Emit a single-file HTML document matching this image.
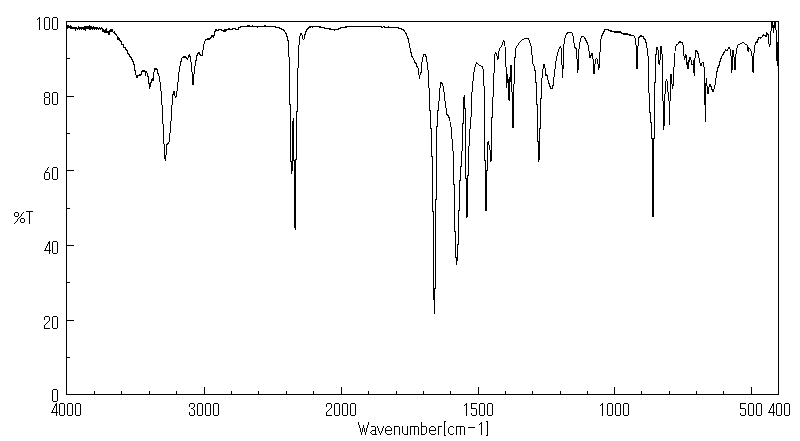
<!DOCTYPE html>
<html><head><meta charset="utf-8"><title>IR Spectrum</title>
<style>
html,body{margin:0;padding:0;background:#fff}
body{width:800px;height:441px;overflow:hidden;font-family:"Liberation Sans",sans-serif}
svg{display:block}
</style></head><body>
<svg width="800" height="441" viewBox="0 0 800 441" shape-rendering="crispEdges">
<desc>IR spectrum. Y axis: %T (0, 20, 40, 60, 80, 100). X axis: Wavenumber[cm-1] (4000, 3000, 2000, 1500, 1000, 500, 400).</desc>
<rect x="0" y="0" width="800" height="441" fill="#fff"/>
<path fill="#000" stroke="none" d="M14 213h1v3h-1zM14 223h1v1h-1zM15 212h1v1h-1zM15 216h1v1h-1zM15 222h1v1h-1zM16 212h1v1h-1zM16 216h1v1h-1zM16 221h1v1h-1zM17 212h1v1h-1zM17 216h1v1h-1zM17 219h1v2h-1zM18 213h1v3h-1zM18 218h1v1h-1zM19 217h1v1h-1zM20 216h1v1h-1zM20 219h1v3h-1zM21 214h1v2h-1zM21 218h1v1h-1zM21 222h1v1h-1zM22 213h1v1h-1zM22 218h1v1h-1zM22 222h1v1h-1zM23 212h1v1h-1zM23 218h1v1h-1zM23 222h1v1h-1zM24 219h1v3h-1zM26 211h1v1h-1zM27 211h1v1h-1zM28 211h1v1h-1zM29 211h1v13h-1zM30 211h1v1h-1zM31 211h1v1h-1zM32 211h1v1h-1zM37 19h1v1h-1zM38 18h1v1h-1zM39 17h1v13h-1zM44 18h1v11h-1zM44 93h1v4h-1zM44 98h1v6h-1zM44 173h1v6h-1zM44 250h1v1h-1zM44 317h1v3h-1zM44 325h1v4h-1zM45 17h1v1h-1zM45 29h1v1h-1zM45 92h1v1h-1zM45 97h1v1h-1zM45 104h1v1h-1zM45 171h1v2h-1zM45 179h1v1h-1zM45 248h1v3h-1zM45 316h1v1h-1zM45 324h1v1h-1zM45 328h1v1h-1zM46 17h1v1h-1zM46 29h1v1h-1zM46 92h1v1h-1zM46 97h1v1h-1zM46 104h1v1h-1zM46 170h1v1h-1zM46 172h1v1h-1zM46 179h1v1h-1zM46 246h1v2h-1zM46 250h1v1h-1zM46 316h1v1h-1zM46 323h1v1h-1zM46 328h1v1h-1zM47 17h1v1h-1zM47 29h1v1h-1zM47 92h1v1h-1zM47 97h1v1h-1zM47 104h1v1h-1zM47 168h1v2h-1zM47 172h1v1h-1zM47 179h1v1h-1zM47 244h1v2h-1zM47 250h1v1h-1zM47 316h1v1h-1zM47 322h1v1h-1zM47 328h1v1h-1zM48 17h1v1h-1zM48 29h1v1h-1zM48 92h1v1h-1zM48 97h1v1h-1zM48 104h1v1h-1zM48 167h1v1h-1zM48 172h1v1h-1zM48 179h1v1h-1zM48 242h1v2h-1zM48 250h1v1h-1zM48 316h1v1h-1zM48 321h1v1h-1zM48 328h1v1h-1zM49 18h1v11h-1zM49 93h1v4h-1zM49 98h1v6h-1zM49 173h1v6h-1zM49 241h1v13h-1zM49 317h1v4h-1zM49 328h1v1h-1zM50 250h1v1h-1zM51 412h1v1h-1zM52 18h1v11h-1zM52 93h1v11h-1zM52 168h1v11h-1zM52 242h1v11h-1zM52 317h1v11h-1zM52 390h1v11h-1zM52 410h1v3h-1zM53 17h1v1h-1zM53 29h1v1h-1zM53 92h1v1h-1zM53 104h1v1h-1zM53 167h1v1h-1zM53 179h1v1h-1zM53 241h1v1h-1zM53 253h1v1h-1zM53 316h1v1h-1zM53 328h1v1h-1zM53 389h1v1h-1zM53 401h1v1h-1zM53 408h1v2h-1zM53 412h1v1h-1zM54 17h1v1h-1zM54 29h1v1h-1zM54 92h1v1h-1zM54 104h1v1h-1zM54 167h1v1h-1zM54 179h1v1h-1zM54 241h1v1h-1zM54 253h1v1h-1zM54 316h1v1h-1zM54 328h1v1h-1zM54 389h1v1h-1zM54 401h1v1h-1zM54 406h1v2h-1zM54 412h1v1h-1zM55 17h1v1h-1zM55 29h1v1h-1zM55 92h1v1h-1zM55 104h1v1h-1zM55 167h1v1h-1zM55 179h1v1h-1zM55 241h1v1h-1zM55 253h1v1h-1zM55 316h1v1h-1zM55 328h1v1h-1zM55 389h1v1h-1zM55 401h1v1h-1zM55 404h1v2h-1zM55 412h1v1h-1zM56 17h1v1h-1zM56 29h1v1h-1zM56 92h1v1h-1zM56 104h1v1h-1zM56 167h1v1h-1zM56 179h1v1h-1zM56 241h1v1h-1zM56 253h1v1h-1zM56 316h1v1h-1zM56 328h1v1h-1zM56 389h1v1h-1zM56 401h1v1h-1zM56 403h1v13h-1zM57 18h1v11h-1zM57 93h1v11h-1zM57 168h1v11h-1zM57 242h1v11h-1zM57 317h1v11h-1zM57 390h1v11h-1zM57 412h1v1h-1zM59 404h1v11h-1zM60 403h1v1h-1zM60 415h1v1h-1zM61 403h1v1h-1zM61 415h1v1h-1zM62 403h1v1h-1zM62 415h1v1h-1zM63 403h1v1h-1zM63 415h1v1h-1zM64 404h1v11h-1zM66 21h1v374h-1zM67 21h1v1h-1zM67 25h1v4h-1zM67 58h1v1h-1zM67 96h1v1h-1zM67 133h1v1h-1zM67 170h1v1h-1zM67 208h1v1h-1zM67 245h1v1h-1zM67 282h1v1h-1zM67 320h1v1h-1zM67 357h1v1h-1zM67 394h1v1h-1zM67 404h1v11h-1zM68 21h1v1h-1zM68 25h1v3h-1zM68 58h1v1h-1zM68 96h1v1h-1zM68 133h1v1h-1zM68 170h1v1h-1zM68 208h1v1h-1zM68 245h1v1h-1zM68 282h1v1h-1zM68 320h1v1h-1zM68 357h1v1h-1zM68 394h1v1h-1zM68 403h1v1h-1zM68 415h1v1h-1zM69 21h1v1h-1zM69 26h1v2h-1zM69 58h1v1h-1zM69 96h1v1h-1zM69 133h1v1h-1zM69 170h1v1h-1zM69 208h1v1h-1zM69 245h1v1h-1zM69 282h1v1h-1zM69 320h1v1h-1zM69 357h1v1h-1zM69 394h1v1h-1zM69 403h1v1h-1zM69 415h1v1h-1zM70 21h1v1h-1zM70 25h1v4h-1zM70 96h1v1h-1zM70 170h1v1h-1zM70 245h1v1h-1zM70 320h1v1h-1zM70 394h1v1h-1zM70 403h1v1h-1zM70 415h1v1h-1zM71 21h1v1h-1zM71 26h1v3h-1zM71 96h1v1h-1zM71 170h1v1h-1zM71 245h1v1h-1zM71 320h1v1h-1zM71 394h1v1h-1zM71 403h1v1h-1zM71 415h1v1h-1zM72 21h1v1h-1zM72 27h1v2h-1zM72 96h1v1h-1zM72 170h1v1h-1zM72 245h1v1h-1zM72 320h1v1h-1zM72 394h1v1h-1zM72 404h1v11h-1zM73 21h1v1h-1zM73 27h1v2h-1zM73 96h1v1h-1zM73 170h1v1h-1zM73 245h1v1h-1zM73 320h1v1h-1zM73 394h1v1h-1zM74 21h1v1h-1zM74 27h1v2h-1zM74 394h1v1h-1zM75 21h1v1h-1zM75 27h1v4h-1zM75 394h1v1h-1zM75 404h1v11h-1zM76 21h1v1h-1zM76 27h1v2h-1zM76 394h1v1h-1zM76 403h1v1h-1zM76 415h1v1h-1zM77 21h1v1h-1zM77 28h1v2h-1zM77 394h1v1h-1zM77 403h1v1h-1zM77 415h1v1h-1zM78 21h1v1h-1zM78 26h1v3h-1zM78 394h1v1h-1zM78 403h1v1h-1zM78 415h1v1h-1zM79 21h1v1h-1zM79 27h1v3h-1zM79 394h1v1h-1zM79 403h1v1h-1zM79 415h1v1h-1zM80 21h1v1h-1zM80 27h1v2h-1zM80 394h1v1h-1zM80 404h1v11h-1zM81 21h1v1h-1zM81 27h1v3h-1zM81 394h1v1h-1zM82 21h1v1h-1zM82 27h1v2h-1zM82 394h1v1h-1zM83 21h1v1h-1zM83 27h1v3h-1zM83 394h1v1h-1zM84 21h1v1h-1zM84 26h1v4h-1zM84 394h1v1h-1zM85 21h1v1h-1zM85 26h1v5h-1zM85 394h1v1h-1zM86 21h1v1h-1zM86 26h1v3h-1zM86 394h1v1h-1zM87 21h1v1h-1zM87 26h1v3h-1zM87 394h1v1h-1zM88 21h1v1h-1zM88 26h1v3h-1zM88 394h1v1h-1zM89 21h1v1h-1zM89 25h1v5h-1zM89 394h1v1h-1zM90 21h1v1h-1zM90 26h1v4h-1zM90 394h1v1h-1zM91 21h1v1h-1zM91 26h1v3h-1zM91 394h1v1h-1zM92 21h1v1h-1zM92 27h1v3h-1zM92 394h1v1h-1zM93 21h1v1h-1zM93 26h1v3h-1zM93 394h1v1h-1zM94 21h1v1h-1zM94 27h1v3h-1zM94 391h1v4h-1zM95 21h1v1h-1zM95 27h1v2h-1zM95 394h1v1h-1zM96 21h1v1h-1zM96 27h1v3h-1zM96 394h1v1h-1zM97 21h1v1h-1zM97 27h1v2h-1zM97 394h1v1h-1zM98 21h1v1h-1zM98 28h1v2h-1zM98 394h1v1h-1zM99 21h1v1h-1zM99 27h1v2h-1zM99 394h1v1h-1zM100 21h1v1h-1zM100 28h1v2h-1zM100 394h1v1h-1zM101 21h1v1h-1zM101 27h1v2h-1zM101 394h1v1h-1zM102 21h1v1h-1zM102 28h1v4h-1zM102 394h1v1h-1zM103 21h1v1h-1zM103 29h1v3h-1zM103 394h1v1h-1zM104 21h1v1h-1zM104 30h1v3h-1zM104 394h1v1h-1zM105 21h1v1h-1zM105 29h1v4h-1zM105 394h1v1h-1zM106 21h1v1h-1zM106 28h1v5h-1zM106 394h1v1h-1zM107 21h1v1h-1zM107 31h1v2h-1zM107 394h1v1h-1zM108 21h1v1h-1zM108 31h1v4h-1zM108 394h1v1h-1zM109 21h1v1h-1zM109 30h1v5h-1zM109 394h1v1h-1zM110 21h1v1h-1zM110 29h1v3h-1zM110 394h1v1h-1zM111 21h1v1h-1zM111 29h1v3h-1zM111 394h1v1h-1zM112 21h1v1h-1zM112 29h1v3h-1zM112 394h1v1h-1zM113 21h1v1h-1zM113 32h1v1h-1zM113 394h1v1h-1zM114 21h1v1h-1zM114 31h1v3h-1zM114 394h1v1h-1zM115 21h1v1h-1zM115 33h1v2h-1zM115 394h1v1h-1zM116 21h1v1h-1zM116 34h1v2h-1zM116 394h1v1h-1zM117 21h1v1h-1zM117 36h1v4h-1zM117 394h1v1h-1zM118 21h1v1h-1zM118 37h1v3h-1zM118 394h1v1h-1zM119 21h1v1h-1zM119 38h1v3h-1zM119 394h1v1h-1zM120 21h1v1h-1zM120 40h1v2h-1zM120 394h1v1h-1zM121 21h1v1h-1zM121 41h1v4h-1zM121 391h1v4h-1zM122 21h1v1h-1zM122 44h1v1h-1zM122 394h1v1h-1zM123 21h1v1h-1zM123 44h1v4h-1zM123 394h1v1h-1zM124 21h1v1h-1zM124 47h1v1h-1zM124 394h1v1h-1zM125 21h1v1h-1zM125 47h1v3h-1zM125 394h1v1h-1zM126 21h1v1h-1zM126 49h1v2h-1zM126 394h1v1h-1zM127 21h1v1h-1zM127 50h1v4h-1zM127 394h1v1h-1zM128 21h1v1h-1zM128 53h1v2h-1zM128 394h1v1h-1zM129 21h1v1h-1zM129 54h1v3h-1zM129 394h1v1h-1zM130 21h1v1h-1zM130 56h1v2h-1zM130 394h1v1h-1zM131 21h1v1h-1zM131 57h1v3h-1zM131 394h1v1h-1zM132 21h1v1h-1zM132 59h1v3h-1zM132 394h1v1h-1zM133 21h1v1h-1zM133 61h1v4h-1zM133 394h1v1h-1zM134 21h1v1h-1zM134 64h1v7h-1zM134 394h1v1h-1zM135 21h1v1h-1zM135 70h1v5h-1zM135 394h1v1h-1zM136 21h1v1h-1zM136 75h1v3h-1zM136 394h1v1h-1zM137 21h1v1h-1zM137 75h1v3h-1zM137 394h1v1h-1zM138 21h1v1h-1zM138 75h1v1h-1zM138 394h1v1h-1zM139 21h1v1h-1zM139 74h1v2h-1zM139 394h1v1h-1zM140 21h1v1h-1zM140 74h1v2h-1zM140 394h1v1h-1zM141 21h1v1h-1zM141 71h1v4h-1zM141 394h1v1h-1zM142 21h1v1h-1zM142 70h1v2h-1zM142 394h1v1h-1zM143 21h1v1h-1zM143 70h1v2h-1zM143 394h1v1h-1zM144 21h1v1h-1zM144 70h1v2h-1zM144 394h1v1h-1zM145 21h1v1h-1zM145 71h1v5h-1zM145 394h1v1h-1zM146 21h1v1h-1zM146 71h1v2h-1zM146 394h1v1h-1zM147 21h1v1h-1zM147 73h1v4h-1zM147 394h1v1h-1zM148 21h1v1h-1zM148 76h1v8h-1zM148 394h1v1h-1zM149 21h1v1h-1zM149 83h1v6h-1zM149 391h1v4h-1zM150 21h1v1h-1zM150 82h1v5h-1zM150 394h1v1h-1zM151 21h1v1h-1zM151 79h1v4h-1zM151 394h1v1h-1zM152 21h1v1h-1zM152 78h1v3h-1zM152 394h1v1h-1zM153 21h1v1h-1zM153 72h1v9h-1zM153 394h1v1h-1zM154 21h1v1h-1zM154 68h1v4h-1zM154 394h1v1h-1zM155 21h1v1h-1zM155 68h1v2h-1zM155 394h1v1h-1zM156 21h1v1h-1zM156 68h1v2h-1zM156 394h1v1h-1zM157 21h1v1h-1zM157 69h1v5h-1zM157 394h1v1h-1zM158 21h1v1h-1zM158 73h1v3h-1zM158 394h1v1h-1zM159 21h1v1h-1zM159 76h1v6h-1zM159 394h1v1h-1zM160 21h1v1h-1zM160 82h1v9h-1zM160 394h1v1h-1zM161 21h1v1h-1zM161 91h1v14h-1zM161 394h1v1h-1zM162 21h1v1h-1zM162 105h1v19h-1zM162 394h1v1h-1zM163 21h1v1h-1zM163 124h1v20h-1zM163 394h1v1h-1zM164 21h1v1h-1zM164 144h1v15h-1zM164 394h1v1h-1zM165 21h1v1h-1zM165 155h1v6h-1zM165 394h1v1h-1zM166 21h1v1h-1zM166 144h1v11h-1zM166 394h1v1h-1zM167 21h1v1h-1zM167 143h1v2h-1zM167 394h1v1h-1zM168 21h1v1h-1zM168 142h1v2h-1zM168 394h1v1h-1zM169 21h1v1h-1zM169 133h1v9h-1zM169 394h1v1h-1zM170 21h1v1h-1zM170 121h1v12h-1zM170 394h1v1h-1zM171 21h1v1h-1zM171 105h1v16h-1zM171 394h1v1h-1zM172 21h1v1h-1zM172 94h1v11h-1zM172 394h1v1h-1zM173 21h1v1h-1zM173 91h1v4h-1zM173 394h1v1h-1zM174 21h1v1h-1zM174 91h1v5h-1zM174 394h1v1h-1zM175 21h1v1h-1zM175 96h1v2h-1zM175 394h1v1h-1zM176 21h1v1h-1zM176 91h1v6h-1zM176 391h1v4h-1zM177 21h1v1h-1zM177 82h1v9h-1zM177 394h1v1h-1zM178 21h1v1h-1zM178 72h1v10h-1zM178 394h1v1h-1zM179 21h1v1h-1zM179 66h1v6h-1zM179 394h1v1h-1zM180 21h1v1h-1zM180 61h1v5h-1zM180 394h1v1h-1zM181 21h1v1h-1zM181 58h1v4h-1zM181 394h1v1h-1zM182 21h1v1h-1zM182 57h1v1h-1zM182 394h1v1h-1zM183 21h1v1h-1zM183 56h1v2h-1zM183 394h1v1h-1zM184 21h1v1h-1zM184 56h1v2h-1zM184 394h1v1h-1zM185 21h1v1h-1zM185 56h1v2h-1zM185 394h1v1h-1zM186 21h1v1h-1zM186 57h1v2h-1zM186 394h1v1h-1zM187 21h1v1h-1zM187 58h1v2h-1zM187 394h1v1h-1zM188 21h1v1h-1zM188 55h1v3h-1zM188 394h1v1h-1zM189 21h1v1h-1zM189 54h1v3h-1zM189 394h1v1h-1zM189 404h1v3h-1zM189 412h1v3h-1zM190 21h1v1h-1zM190 56h1v6h-1zM190 394h1v1h-1zM190 403h1v1h-1zM190 415h1v1h-1zM191 21h1v1h-1zM191 62h1v10h-1zM191 394h1v1h-1zM191 403h1v1h-1zM191 408h1v1h-1zM191 415h1v1h-1zM192 21h1v1h-1zM192 72h1v13h-1zM192 394h1v1h-1zM192 403h1v1h-1zM192 408h1v1h-1zM192 415h1v1h-1zM193 21h1v1h-1zM193 74h1v11h-1zM193 394h1v1h-1zM193 403h1v1h-1zM193 407h1v1h-1zM193 409h1v1h-1zM193 415h1v1h-1zM194 21h1v1h-1zM194 66h1v8h-1zM194 394h1v1h-1zM194 404h1v3h-1zM194 410h1v5h-1zM195 21h1v1h-1zM195 60h1v6h-1zM195 394h1v1h-1zM196 21h1v1h-1zM196 55h1v6h-1zM196 394h1v1h-1zM197 21h1v1h-1zM197 53h1v3h-1zM197 394h1v1h-1zM197 404h1v11h-1zM198 21h1v1h-1zM198 52h1v2h-1zM198 394h1v1h-1zM198 403h1v1h-1zM198 415h1v1h-1zM199 21h1v1h-1zM199 52h1v3h-1zM199 394h1v1h-1zM199 403h1v1h-1zM199 415h1v1h-1zM200 21h1v1h-1zM200 54h1v2h-1zM200 394h1v1h-1zM200 403h1v1h-1zM200 415h1v1h-1zM201 21h1v1h-1zM201 55h1v1h-1zM201 394h1v1h-1zM201 403h1v1h-1zM201 415h1v1h-1zM202 21h1v1h-1zM202 50h1v6h-1zM202 394h1v1h-1zM202 404h1v11h-1zM203 21h1v1h-1zM203 44h1v6h-1zM203 394h1v1h-1zM204 21h1v1h-1zM204 41h1v3h-1zM204 387h1v8h-1zM205 21h1v1h-1zM205 39h1v2h-1zM205 394h1v1h-1zM205 404h1v11h-1zM206 21h1v1h-1zM206 39h1v1h-1zM206 394h1v1h-1zM206 403h1v1h-1zM206 415h1v1h-1zM207 21h1v1h-1zM207 38h1v2h-1zM207 394h1v1h-1zM207 403h1v1h-1zM207 415h1v1h-1zM208 21h1v1h-1zM208 38h1v2h-1zM208 394h1v1h-1zM208 403h1v1h-1zM208 415h1v1h-1zM209 21h1v1h-1zM209 38h1v2h-1zM209 394h1v1h-1zM209 403h1v1h-1zM209 415h1v1h-1zM210 21h1v1h-1zM210 37h1v2h-1zM210 394h1v1h-1zM210 404h1v11h-1zM211 21h1v1h-1zM211 35h1v3h-1zM211 394h1v1h-1zM212 21h1v1h-1zM212 35h1v2h-1zM212 394h1v1h-1zM213 21h1v1h-1zM213 35h1v3h-1zM213 394h1v1h-1zM213 404h1v11h-1zM214 21h1v1h-1zM214 31h1v5h-1zM214 394h1v1h-1zM214 403h1v1h-1zM214 415h1v1h-1zM215 21h1v1h-1zM215 29h1v3h-1zM215 394h1v1h-1zM215 403h1v1h-1zM215 415h1v1h-1zM216 21h1v1h-1zM216 29h1v2h-1zM216 394h1v1h-1zM216 403h1v1h-1zM216 415h1v1h-1zM217 21h1v1h-1zM217 30h1v1h-1zM217 394h1v1h-1zM217 403h1v1h-1zM217 415h1v1h-1zM218 21h1v1h-1zM218 29h1v2h-1zM218 394h1v1h-1zM218 404h1v11h-1zM219 21h1v1h-1zM219 29h1v1h-1zM219 394h1v1h-1zM220 21h1v1h-1zM220 29h1v1h-1zM220 394h1v1h-1zM221 21h1v1h-1zM221 29h1v2h-1zM221 394h1v1h-1zM222 21h1v1h-1zM222 30h1v1h-1zM222 394h1v1h-1zM223 21h1v1h-1zM223 30h1v2h-1zM223 394h1v1h-1zM224 21h1v1h-1zM224 29h1v3h-1zM224 394h1v1h-1zM225 21h1v1h-1zM225 29h1v3h-1zM225 394h1v1h-1zM226 21h1v1h-1zM226 29h1v2h-1zM226 394h1v1h-1zM227 21h1v1h-1zM227 29h1v1h-1zM227 394h1v1h-1zM228 21h1v1h-1zM228 28h1v2h-1zM228 394h1v1h-1zM229 21h1v1h-1zM229 28h1v2h-1zM229 394h1v1h-1zM230 21h1v1h-1zM230 29h1v1h-1zM230 394h1v1h-1zM231 21h1v1h-1zM231 29h1v1h-1zM231 391h1v4h-1zM232 21h1v1h-1zM232 28h1v2h-1zM232 394h1v1h-1zM233 21h1v1h-1zM233 28h1v1h-1zM233 394h1v1h-1zM234 21h1v1h-1zM234 28h1v1h-1zM234 394h1v1h-1zM235 21h1v1h-1zM235 28h1v2h-1zM235 394h1v1h-1zM236 21h1v1h-1zM236 29h1v1h-1zM236 394h1v1h-1zM237 21h1v1h-1zM237 29h1v1h-1zM237 394h1v1h-1zM238 21h1v1h-1zM238 27h1v3h-1zM238 394h1v1h-1zM239 21h1v1h-1zM239 27h1v1h-1zM239 394h1v1h-1zM240 21h1v1h-1zM240 26h1v2h-1zM240 394h1v1h-1zM241 21h1v1h-1zM241 26h1v1h-1zM241 394h1v1h-1zM242 21h1v1h-1zM242 26h1v1h-1zM242 394h1v1h-1zM243 21h1v1h-1zM243 26h1v1h-1zM243 394h1v1h-1zM244 21h1v1h-1zM244 26h1v1h-1zM244 394h1v1h-1zM245 21h1v1h-1zM245 26h1v1h-1zM245 394h1v1h-1zM246 21h1v1h-1zM246 26h1v1h-1zM246 394h1v1h-1zM247 21h1v1h-1zM247 25h1v2h-1zM247 394h1v1h-1zM248 21h1v1h-1zM248 25h1v2h-1zM248 394h1v1h-1zM249 21h1v1h-1zM249 25h1v2h-1zM249 394h1v1h-1zM250 21h1v1h-1zM250 26h1v1h-1zM250 394h1v1h-1zM251 21h1v1h-1zM251 26h1v1h-1zM251 394h1v1h-1zM252 21h1v1h-1zM252 25h1v2h-1zM252 394h1v1h-1zM253 21h1v1h-1zM253 26h1v1h-1zM253 394h1v1h-1zM254 21h1v1h-1zM254 26h1v1h-1zM254 394h1v1h-1zM255 21h1v1h-1zM255 26h1v1h-1zM255 394h1v1h-1zM256 21h1v1h-1zM256 26h1v1h-1zM256 394h1v1h-1zM257 21h1v1h-1zM257 26h1v2h-1zM257 394h1v1h-1zM258 21h1v1h-1zM258 26h1v1h-1zM258 391h1v4h-1zM259 21h1v1h-1zM259 26h1v1h-1zM259 394h1v1h-1zM260 21h1v1h-1zM260 26h1v1h-1zM260 394h1v1h-1zM261 21h1v1h-1zM261 26h1v1h-1zM261 394h1v1h-1zM262 21h1v1h-1zM262 26h1v1h-1zM262 394h1v1h-1zM263 21h1v1h-1zM263 26h1v1h-1zM263 394h1v1h-1zM264 21h1v1h-1zM264 25h1v2h-1zM264 394h1v1h-1zM265 21h1v1h-1zM265 25h1v2h-1zM265 394h1v1h-1zM266 21h1v1h-1zM266 26h1v1h-1zM266 394h1v1h-1zM267 21h1v1h-1zM267 26h1v1h-1zM267 394h1v1h-1zM268 21h1v1h-1zM268 26h1v1h-1zM268 394h1v1h-1zM269 21h1v1h-1zM269 26h1v1h-1zM269 394h1v1h-1zM270 21h1v1h-1zM270 26h1v1h-1zM270 394h1v1h-1zM271 21h1v1h-1zM271 26h1v1h-1zM271 394h1v1h-1zM272 21h1v1h-1zM272 26h1v1h-1zM272 394h1v1h-1zM273 21h1v1h-1zM273 26h1v1h-1zM273 394h1v1h-1zM274 21h1v1h-1zM274 26h1v1h-1zM274 394h1v1h-1zM275 21h1v1h-1zM275 26h1v2h-1zM275 394h1v1h-1zM276 21h1v1h-1zM276 27h1v1h-1zM276 394h1v1h-1zM277 21h1v1h-1zM277 27h1v1h-1zM277 394h1v1h-1zM278 21h1v1h-1zM278 27h1v1h-1zM278 394h1v1h-1zM279 21h1v1h-1zM279 27h1v2h-1zM279 394h1v1h-1zM280 21h1v1h-1zM280 28h1v1h-1zM280 394h1v1h-1zM281 21h1v1h-1zM281 28h1v2h-1zM281 394h1v1h-1zM282 21h1v1h-1zM282 29h1v1h-1zM282 394h1v1h-1zM283 21h1v1h-1zM283 29h1v2h-1zM283 394h1v1h-1zM284 21h1v1h-1zM284 30h1v2h-1zM284 394h1v1h-1zM285 21h1v1h-1zM285 32h1v2h-1zM285 394h1v1h-1zM286 21h1v1h-1zM286 33h1v4h-1zM286 391h1v4h-1zM287 21h1v1h-1zM287 36h1v5h-1zM287 394h1v1h-1zM288 21h1v1h-1zM288 40h1v17h-1zM288 394h1v1h-1zM289 21h1v1h-1zM289 57h1v48h-1zM289 394h1v1h-1zM290 21h1v1h-1zM290 104h1v58h-1zM290 394h1v1h-1zM291 21h1v1h-1zM291 161h1v13h-1zM291 394h1v1h-1zM292 21h1v1h-1zM292 121h1v50h-1zM292 394h1v1h-1zM293 21h1v1h-1zM293 118h1v43h-1zM293 394h1v1h-1zM294 21h1v1h-1zM294 160h1v68h-1zM294 394h1v1h-1zM295 21h1v1h-1zM295 159h1v71h-1zM295 394h1v1h-1zM296 21h1v1h-1zM296 111h1v49h-1zM296 394h1v1h-1zM297 21h1v1h-1zM297 68h1v44h-1zM297 394h1v1h-1zM298 21h1v1h-1zM298 45h1v23h-1zM298 394h1v1h-1zM299 21h1v1h-1zM299 36h1v9h-1zM299 394h1v1h-1zM300 21h1v1h-1zM300 33h1v3h-1zM300 394h1v1h-1zM301 21h1v1h-1zM301 33h1v2h-1zM301 394h1v1h-1zM302 21h1v1h-1zM302 35h1v4h-1zM302 394h1v1h-1zM303 21h1v1h-1zM303 39h1v1h-1zM303 394h1v1h-1zM304 21h1v1h-1zM304 34h1v5h-1zM304 394h1v1h-1zM305 21h1v1h-1zM305 31h1v4h-1zM305 394h1v1h-1zM306 21h1v1h-1zM306 29h1v3h-1zM306 394h1v1h-1zM307 21h1v1h-1zM307 28h1v2h-1zM307 394h1v1h-1zM308 21h1v1h-1zM308 27h1v2h-1zM308 394h1v1h-1zM309 21h1v1h-1zM309 26h1v2h-1zM309 394h1v1h-1zM310 21h1v1h-1zM310 26h1v2h-1zM310 394h1v1h-1zM311 21h1v1h-1zM311 26h1v1h-1zM311 394h1v1h-1zM312 21h1v1h-1zM312 26h1v2h-1zM312 394h1v1h-1zM313 21h1v1h-1zM313 26h1v1h-1zM313 391h1v4h-1zM314 21h1v1h-1zM314 26h1v1h-1zM314 394h1v1h-1zM315 21h1v1h-1zM315 26h1v1h-1zM315 394h1v1h-1zM316 21h1v1h-1zM316 26h1v1h-1zM316 394h1v1h-1zM317 21h1v1h-1zM317 26h1v1h-1zM317 394h1v1h-1zM318 21h1v1h-1zM318 26h1v1h-1zM318 394h1v1h-1zM319 21h1v1h-1zM319 26h1v2h-1zM319 394h1v1h-1zM320 21h1v1h-1zM320 26h1v2h-1zM320 394h1v1h-1zM321 21h1v1h-1zM321 27h1v1h-1zM321 394h1v1h-1zM322 21h1v1h-1zM322 27h1v1h-1zM322 394h1v1h-1zM323 21h1v1h-1zM323 27h1v1h-1zM323 394h1v1h-1zM324 21h1v1h-1zM324 27h1v2h-1zM324 394h1v1h-1zM325 21h1v1h-1zM325 28h1v1h-1zM325 394h1v1h-1zM326 21h1v1h-1zM326 28h1v1h-1zM326 394h1v1h-1zM326 404h1v3h-1zM326 412h1v4h-1zM327 21h1v1h-1zM327 28h1v1h-1zM327 394h1v1h-1zM327 403h1v1h-1zM327 411h1v1h-1zM327 415h1v1h-1zM328 21h1v1h-1zM328 28h1v1h-1zM328 394h1v1h-1zM328 403h1v1h-1zM328 410h1v1h-1zM328 415h1v1h-1zM329 21h1v1h-1zM329 28h1v2h-1zM329 394h1v1h-1zM329 403h1v1h-1zM329 409h1v1h-1zM329 415h1v1h-1zM330 21h1v1h-1zM330 28h1v2h-1zM330 394h1v1h-1zM330 403h1v1h-1zM330 408h1v1h-1zM330 415h1v1h-1zM331 21h1v1h-1zM331 29h1v1h-1zM331 394h1v1h-1zM331 404h1v4h-1zM331 415h1v1h-1zM332 21h1v1h-1zM332 29h1v1h-1zM332 394h1v1h-1zM333 21h1v1h-1zM333 29h1v1h-1zM333 394h1v1h-1zM334 21h1v1h-1zM334 29h1v2h-1zM334 394h1v1h-1zM334 404h1v11h-1zM335 21h1v1h-1zM335 29h1v1h-1zM335 394h1v1h-1zM335 403h1v1h-1zM335 415h1v1h-1zM336 21h1v1h-1zM336 29h1v1h-1zM336 394h1v1h-1zM336 403h1v1h-1zM336 415h1v1h-1zM337 21h1v1h-1zM337 29h1v1h-1zM337 394h1v1h-1zM337 403h1v1h-1zM337 415h1v1h-1zM338 21h1v1h-1zM338 28h1v2h-1zM338 394h1v1h-1zM338 403h1v1h-1zM338 415h1v1h-1zM339 21h1v1h-1zM339 28h1v1h-1zM339 394h1v1h-1zM339 404h1v11h-1zM340 21h1v1h-1zM340 27h1v2h-1zM340 394h1v1h-1zM341 21h1v1h-1zM341 27h1v1h-1zM341 387h1v8h-1zM342 21h1v1h-1zM342 27h1v1h-1zM342 394h1v1h-1zM342 404h1v11h-1zM343 21h1v1h-1zM343 27h1v1h-1zM343 394h1v1h-1zM343 403h1v1h-1zM343 415h1v1h-1zM344 21h1v1h-1zM344 27h1v1h-1zM344 394h1v1h-1zM344 403h1v1h-1zM344 415h1v1h-1zM345 21h1v1h-1zM345 26h1v2h-1zM345 394h1v1h-1zM345 403h1v1h-1zM345 415h1v1h-1zM346 21h1v1h-1zM346 26h1v2h-1zM346 394h1v1h-1zM346 403h1v1h-1zM346 415h1v1h-1zM347 21h1v1h-1zM347 26h1v1h-1zM347 394h1v1h-1zM347 404h1v11h-1zM348 21h1v1h-1zM348 26h1v1h-1zM348 394h1v1h-1zM349 21h1v1h-1zM349 26h1v1h-1zM349 394h1v1h-1zM350 21h1v1h-1zM350 26h1v1h-1zM350 394h1v1h-1zM350 404h1v11h-1zM351 21h1v1h-1zM351 26h1v1h-1zM351 394h1v1h-1zM351 403h1v1h-1zM351 415h1v1h-1zM352 21h1v1h-1zM352 26h1v1h-1zM352 394h1v1h-1zM352 403h1v1h-1zM352 415h1v1h-1zM353 21h1v1h-1zM353 26h1v1h-1zM353 394h1v1h-1zM353 403h1v1h-1zM353 415h1v1h-1zM354 21h1v1h-1zM354 26h1v1h-1zM354 394h1v1h-1zM354 403h1v1h-1zM354 415h1v1h-1zM355 21h1v1h-1zM355 26h1v1h-1zM355 394h1v1h-1zM355 404h1v11h-1zM356 21h1v1h-1zM356 26h1v1h-1zM356 394h1v1h-1zM357 21h1v1h-1zM357 26h1v1h-1zM357 394h1v1h-1zM358 21h1v1h-1zM358 26h1v1h-1zM358 394h1v1h-1zM358 422h1v3h-1zM359 21h1v1h-1zM359 26h1v1h-1zM359 394h1v1h-1zM359 425h1v3h-1zM360 21h1v1h-1zM360 26h1v1h-1zM360 394h1v1h-1zM360 428h1v4h-1zM361 21h1v1h-1zM361 26h1v1h-1zM361 394h1v1h-1zM361 432h1v3h-1zM362 21h1v1h-1zM362 26h1v1h-1zM362 394h1v1h-1zM362 428h1v4h-1zM363 21h1v1h-1zM363 26h1v1h-1zM363 394h1v1h-1zM363 425h1v3h-1zM364 21h1v1h-1zM364 26h1v1h-1zM364 394h1v1h-1zM364 428h1v4h-1zM365 21h1v1h-1zM365 26h1v1h-1zM365 394h1v1h-1zM365 432h1v3h-1zM366 21h1v1h-1zM366 26h1v1h-1zM366 394h1v1h-1zM366 428h1v4h-1zM367 21h1v1h-1zM367 26h1v1h-1zM367 394h1v1h-1zM367 425h1v3h-1zM368 21h1v1h-1zM368 26h1v1h-1zM368 391h1v4h-1zM368 422h1v3h-1zM369 21h1v1h-1zM369 26h1v1h-1zM369 394h1v1h-1zM370 21h1v1h-1zM370 26h1v1h-1zM370 394h1v1h-1zM370 432h1v1h-1zM371 21h1v1h-1zM371 26h1v1h-1zM371 394h1v1h-1zM371 426h1v1h-1zM371 431h1v1h-1zM371 433h1v1h-1zM372 21h1v1h-1zM372 26h1v1h-1zM372 394h1v1h-1zM372 426h1v1h-1zM372 430h1v1h-1zM372 434h1v1h-1zM373 21h1v1h-1zM373 26h1v1h-1zM373 394h1v1h-1zM373 426h1v1h-1zM373 430h1v1h-1zM373 434h1v1h-1zM374 21h1v1h-1zM374 26h1v1h-1zM374 394h1v1h-1zM374 426h1v1h-1zM374 430h1v1h-1zM374 434h1v1h-1zM375 21h1v1h-1zM375 26h1v1h-1zM375 394h1v1h-1zM375 427h1v8h-1zM376 21h1v1h-1zM376 26h1v1h-1zM376 394h1v1h-1zM376 434h1v1h-1zM377 21h1v1h-1zM377 26h1v1h-1zM377 394h1v1h-1zM377 426h1v2h-1zM378 21h1v1h-1zM378 26h1v1h-1zM378 394h1v1h-1zM378 428h1v3h-1zM379 21h1v1h-1zM379 26h1v1h-1zM379 394h1v1h-1zM379 431h1v2h-1zM380 21h1v1h-1zM380 26h1v1h-1zM380 394h1v1h-1zM380 433h1v2h-1zM381 21h1v1h-1zM381 26h1v2h-1zM381 394h1v1h-1zM381 431h1v2h-1zM382 21h1v1h-1zM382 27h1v1h-1zM382 394h1v1h-1zM382 428h1v3h-1zM383 21h1v1h-1zM383 26h1v1h-1zM383 394h1v1h-1zM383 426h1v2h-1zM384 21h1v1h-1zM384 26h1v2h-1zM384 394h1v1h-1zM385 21h1v1h-1zM385 27h1v1h-1zM385 394h1v1h-1zM385 428h1v5h-1zM386 21h1v1h-1zM386 27h1v1h-1zM386 394h1v1h-1zM386 427h1v1h-1zM386 430h1v1h-1zM386 433h1v1h-1zM387 21h1v1h-1zM387 27h1v1h-1zM387 394h1v1h-1zM387 426h1v1h-1zM387 430h1v1h-1zM387 434h1v1h-1zM388 21h1v1h-1zM388 26h1v2h-1zM388 394h1v1h-1zM388 426h1v1h-1zM388 430h1v1h-1zM388 434h1v1h-1zM389 21h1v1h-1zM389 27h1v1h-1zM389 394h1v1h-1zM389 426h1v1h-1zM389 430h1v1h-1zM389 434h1v1h-1zM390 21h1v1h-1zM390 27h1v1h-1zM390 394h1v1h-1zM390 427h1v1h-1zM390 430h1v1h-1zM390 434h1v1h-1zM391 21h1v1h-1zM391 27h1v1h-1zM391 394h1v1h-1zM391 428h1v3h-1zM391 433h1v1h-1zM392 21h1v1h-1zM392 27h1v1h-1zM392 394h1v1h-1zM393 21h1v1h-1zM393 27h1v1h-1zM393 394h1v1h-1zM394 21h1v1h-1zM394 27h1v1h-1zM394 394h1v1h-1zM394 426h1v9h-1zM395 21h1v1h-1zM395 27h1v1h-1zM395 394h1v1h-1zM395 426h1v1h-1zM396 21h1v1h-1zM396 27h1v1h-1zM396 391h1v4h-1zM396 426h1v1h-1zM397 21h1v1h-1zM397 27h1v1h-1zM397 394h1v1h-1zM397 426h1v1h-1zM398 21h1v1h-1zM398 27h1v2h-1zM398 394h1v1h-1zM398 426h1v1h-1zM399 21h1v1h-1zM399 28h1v1h-1zM399 394h1v1h-1zM399 427h1v8h-1zM400 21h1v1h-1zM400 28h1v1h-1zM400 394h1v1h-1zM401 21h1v1h-1zM401 28h1v2h-1zM401 394h1v1h-1zM402 21h1v1h-1zM402 29h1v1h-1zM402 394h1v1h-1zM402 426h1v7h-1zM403 21h1v1h-1zM403 29h1v2h-1zM403 394h1v1h-1zM403 433h1v1h-1zM404 21h1v1h-1zM404 30h1v2h-1zM404 394h1v1h-1zM404 434h1v1h-1zM405 21h1v1h-1zM405 32h1v2h-1zM405 394h1v1h-1zM405 434h1v1h-1zM406 21h1v1h-1zM406 33h1v3h-1zM406 394h1v1h-1zM406 434h1v1h-1zM407 21h1v1h-1zM407 36h1v3h-1zM407 394h1v1h-1zM407 426h1v9h-1zM408 21h1v1h-1zM408 38h1v5h-1zM408 394h1v1h-1zM409 21h1v1h-1zM409 43h1v5h-1zM409 394h1v1h-1zM410 21h1v1h-1zM410 48h1v5h-1zM410 394h1v1h-1zM410 426h1v9h-1zM411 21h1v1h-1zM411 52h1v5h-1zM411 394h1v1h-1zM411 426h1v1h-1zM412 21h1v1h-1zM412 56h1v2h-1zM412 394h1v1h-1zM412 426h1v1h-1zM413 21h1v1h-1zM413 58h1v2h-1zM413 394h1v1h-1zM413 426h1v1h-1zM414 21h1v1h-1zM414 60h1v3h-1zM414 394h1v1h-1zM414 426h1v9h-1zM415 21h1v1h-1zM415 62h1v2h-1zM415 394h1v1h-1zM415 426h1v1h-1zM416 21h1v1h-1zM416 63h1v4h-1zM416 394h1v1h-1zM416 426h1v1h-1zM417 21h1v1h-1zM417 66h1v2h-1zM417 394h1v1h-1zM417 426h1v1h-1zM418 21h1v1h-1zM418 68h1v7h-1zM418 394h1v1h-1zM418 427h1v8h-1zM419 21h1v1h-1zM419 75h1v4h-1zM419 394h1v1h-1zM420 21h1v1h-1zM420 72h1v3h-1zM420 394h1v1h-1zM421 21h1v1h-1zM421 62h1v11h-1zM421 394h1v1h-1zM421 422h1v13h-1zM422 21h1v1h-1zM422 57h1v5h-1zM422 394h1v1h-1zM422 426h1v1h-1zM422 434h1v1h-1zM423 21h1v1h-1zM423 54h1v3h-1zM423 391h1v4h-1zM423 426h1v1h-1zM423 434h1v1h-1zM424 21h1v1h-1zM424 54h1v1h-1zM424 394h1v1h-1zM424 426h1v1h-1zM424 434h1v1h-1zM425 21h1v1h-1zM425 54h1v3h-1zM425 394h1v1h-1zM425 426h1v1h-1zM425 433h1v1h-1zM426 21h1v1h-1zM426 56h1v6h-1zM426 394h1v1h-1zM426 427h1v6h-1zM427 21h1v1h-1zM427 62h1v8h-1zM427 394h1v1h-1zM428 21h1v1h-1zM428 70h1v18h-1zM428 394h1v1h-1zM429 21h1v1h-1zM429 88h1v23h-1zM429 394h1v1h-1zM429 428h1v5h-1zM430 21h1v1h-1zM430 110h1v19h-1zM430 394h1v1h-1zM430 427h1v1h-1zM430 430h1v1h-1zM430 433h1v1h-1zM431 21h1v1h-1zM431 128h1v29h-1zM431 394h1v1h-1zM431 426h1v1h-1zM431 430h1v1h-1zM431 434h1v1h-1zM432 21h1v1h-1zM432 156h1v56h-1zM432 394h1v1h-1zM432 426h1v1h-1zM432 430h1v1h-1zM432 434h1v1h-1zM433 21h1v1h-1zM433 211h1v89h-1zM433 394h1v1h-1zM433 426h1v1h-1zM433 430h1v1h-1zM433 434h1v1h-1zM434 21h1v1h-1zM434 288h1v26h-1zM434 394h1v1h-1zM434 427h1v1h-1zM434 430h1v1h-1zM434 434h1v1h-1zM435 21h1v1h-1zM435 199h1v90h-1zM435 394h1v1h-1zM435 428h1v3h-1zM435 433h1v1h-1zM436 21h1v1h-1zM436 126h1v74h-1zM436 394h1v1h-1zM437 21h1v1h-1zM437 110h1v17h-1zM437 394h1v1h-1zM438 21h1v1h-1zM438 101h1v10h-1zM438 394h1v1h-1zM438 426h1v9h-1zM439 21h1v1h-1zM439 88h1v13h-1zM439 394h1v1h-1zM439 426h1v1h-1zM440 21h1v1h-1zM440 82h1v6h-1zM440 394h1v1h-1zM440 426h1v1h-1zM441 21h1v1h-1zM441 82h1v2h-1zM441 394h1v1h-1zM441 426h1v1h-1zM442 21h1v1h-1zM442 83h1v3h-1zM442 394h1v1h-1zM443 21h1v1h-1zM443 86h1v6h-1zM443 394h1v1h-1zM444 21h1v1h-1zM444 92h1v9h-1zM444 394h1v1h-1zM444 421h1v15h-1zM445 21h1v1h-1zM445 101h1v7h-1zM445 394h1v1h-1zM445 421h1v1h-1zM445 435h1v1h-1zM446 21h1v1h-1zM446 108h1v7h-1zM446 394h1v1h-1zM447 21h1v1h-1zM447 114h1v2h-1zM447 394h1v1h-1zM448 21h1v1h-1zM448 115h1v3h-1zM448 394h1v1h-1zM448 428h1v5h-1zM449 21h1v1h-1zM449 117h1v4h-1zM449 394h1v1h-1zM449 427h1v1h-1zM449 433h1v1h-1zM450 21h1v1h-1zM450 122h1v5h-1zM450 391h1v4h-1zM450 426h1v1h-1zM450 434h1v1h-1zM451 21h1v1h-1zM451 127h1v12h-1zM451 394h1v1h-1zM451 426h1v1h-1zM451 434h1v1h-1zM452 21h1v1h-1zM452 139h1v12h-1zM452 394h1v1h-1zM452 426h1v1h-1zM452 434h1v1h-1zM453 21h1v1h-1zM453 151h1v34h-1zM453 394h1v1h-1zM453 427h1v1h-1zM453 433h1v1h-1zM454 21h1v1h-1zM454 184h1v48h-1zM454 394h1v1h-1zM455 21h1v1h-1zM455 231h1v27h-1zM455 394h1v1h-1zM456 21h1v1h-1zM456 257h1v8h-1zM456 394h1v1h-1zM456 426h1v9h-1zM457 21h1v1h-1zM457 244h1v17h-1zM457 394h1v1h-1zM457 426h1v1h-1zM458 21h1v1h-1zM458 210h1v35h-1zM458 394h1v1h-1zM458 426h1v1h-1zM459 21h1v1h-1zM459 180h1v31h-1zM459 394h1v1h-1zM459 426h1v1h-1zM460 21h1v1h-1zM460 166h1v15h-1zM460 394h1v1h-1zM460 426h1v9h-1zM461 21h1v1h-1zM461 151h1v16h-1zM461 394h1v1h-1zM461 426h1v1h-1zM462 21h1v1h-1zM462 123h1v28h-1zM462 394h1v1h-1zM462 426h1v1h-1zM463 21h1v1h-1zM463 97h1v27h-1zM463 394h1v1h-1zM463 426h1v1h-1zM464 21h1v1h-1zM464 95h1v14h-1zM464 394h1v1h-1zM464 405h1v1h-1zM464 427h1v8h-1zM465 21h1v1h-1zM465 108h1v71h-1zM465 394h1v1h-1zM465 404h1v1h-1zM466 21h1v1h-1zM466 178h1v40h-1zM466 394h1v1h-1zM466 403h1v13h-1zM467 21h1v1h-1zM467 175h1v42h-1zM467 394h1v1h-1zM468 21h1v1h-1zM468 146h1v30h-1zM468 394h1v1h-1zM468 427h1v1h-1zM469 21h1v1h-1zM469 129h1v17h-1zM469 394h1v1h-1zM469 427h1v1h-1zM470 21h1v1h-1zM470 117h1v12h-1zM470 394h1v1h-1zM470 427h1v1h-1zM471 21h1v1h-1zM471 92h1v25h-1zM471 394h1v1h-1zM471 403h1v6h-1zM471 413h1v2h-1zM471 427h1v1h-1zM472 21h1v1h-1zM472 81h1v11h-1zM472 394h1v1h-1zM472 403h1v1h-1zM472 408h1v1h-1zM472 415h1v1h-1zM472 427h1v1h-1zM473 21h1v1h-1zM473 72h1v9h-1zM473 394h1v1h-1zM473 403h1v1h-1zM473 408h1v1h-1zM473 415h1v1h-1zM473 427h1v1h-1zM474 21h1v1h-1zM474 67h1v5h-1zM474 394h1v1h-1zM474 403h1v1h-1zM474 408h1v1h-1zM474 415h1v1h-1zM474 427h1v1h-1zM475 21h1v1h-1zM475 64h1v3h-1zM475 394h1v1h-1zM475 403h1v1h-1zM475 408h1v1h-1zM475 415h1v1h-1zM476 21h1v1h-1zM476 62h1v2h-1zM476 394h1v1h-1zM476 403h1v1h-1zM476 409h1v6h-1zM477 21h1v1h-1zM477 63h1v1h-1zM477 394h1v1h-1zM478 21h1v1h-1zM478 64h1v1h-1zM478 387h1v8h-1zM479 21h1v1h-1zM479 65h1v1h-1zM479 394h1v1h-1zM479 404h1v11h-1zM479 424h1v1h-1zM480 21h1v1h-1zM480 65h1v1h-1zM480 394h1v1h-1zM480 403h1v1h-1zM480 415h1v1h-1zM480 423h1v1h-1zM481 21h1v1h-1zM481 66h1v1h-1zM481 394h1v1h-1zM481 403h1v1h-1zM481 415h1v1h-1zM481 422h1v13h-1zM482 21h1v1h-1zM482 66h1v3h-1zM482 394h1v1h-1zM482 403h1v1h-1zM482 415h1v1h-1zM483 21h1v1h-1zM483 69h1v17h-1zM483 394h1v1h-1zM483 403h1v1h-1zM483 415h1v1h-1zM484 21h1v1h-1zM484 86h1v75h-1zM484 394h1v1h-1zM484 404h1v11h-1zM485 21h1v1h-1zM485 160h1v51h-1zM485 394h1v1h-1zM486 21h1v1h-1zM486 170h1v41h-1zM486 394h1v1h-1zM486 421h1v1h-1zM486 435h1v1h-1zM487 21h1v1h-1zM487 142h1v29h-1zM487 394h1v1h-1zM487 404h1v11h-1zM487 421h1v15h-1zM488 21h1v1h-1zM488 141h1v4h-1zM488 394h1v1h-1zM488 403h1v1h-1zM488 415h1v1h-1zM489 21h1v1h-1zM489 145h1v5h-1zM489 394h1v1h-1zM489 403h1v1h-1zM489 415h1v1h-1zM490 21h1v1h-1zM490 150h1v12h-1zM490 394h1v1h-1zM490 403h1v1h-1zM490 415h1v1h-1zM491 21h1v1h-1zM491 117h1v44h-1zM491 394h1v1h-1zM491 403h1v1h-1zM491 415h1v1h-1zM492 21h1v1h-1zM492 97h1v21h-1zM492 394h1v1h-1zM492 404h1v11h-1zM493 21h1v1h-1zM493 73h1v24h-1zM493 394h1v1h-1zM494 21h1v1h-1zM494 54h1v19h-1zM494 394h1v1h-1zM495 21h1v1h-1zM495 52h1v2h-1zM495 394h1v1h-1zM496 21h1v1h-1zM496 53h1v3h-1zM496 394h1v1h-1zM497 21h1v1h-1zM497 56h1v4h-1zM497 394h1v1h-1zM498 21h1v1h-1zM498 51h1v8h-1zM498 394h1v1h-1zM499 21h1v1h-1zM499 48h1v3h-1zM499 394h1v1h-1zM500 21h1v1h-1zM500 47h1v1h-1zM500 394h1v1h-1zM501 21h1v1h-1zM501 45h1v2h-1zM501 394h1v1h-1zM502 21h1v1h-1zM502 42h1v3h-1zM502 394h1v1h-1zM503 21h1v1h-1zM503 40h1v2h-1zM503 394h1v1h-1zM504 21h1v1h-1zM504 41h1v5h-1zM504 394h1v1h-1zM505 21h1v1h-1zM505 47h1v20h-1zM505 391h1v4h-1zM506 21h1v1h-1zM506 67h1v21h-1zM506 394h1v1h-1zM507 21h1v1h-1zM507 74h1v9h-1zM507 394h1v1h-1zM508 21h1v1h-1zM508 79h1v21h-1zM508 394h1v1h-1zM509 21h1v1h-1zM509 77h1v24h-1zM509 394h1v1h-1zM510 21h1v1h-1zM510 65h1v17h-1zM510 394h1v1h-1zM511 21h1v1h-1zM511 65h1v27h-1zM511 394h1v1h-1zM512 21h1v1h-1zM512 92h1v36h-1zM512 394h1v1h-1zM513 21h1v1h-1zM513 84h1v44h-1zM513 394h1v1h-1zM514 21h1v1h-1zM514 57h1v27h-1zM514 394h1v1h-1zM515 21h1v1h-1zM515 48h1v10h-1zM515 394h1v1h-1zM516 21h1v1h-1zM516 46h1v2h-1zM516 394h1v1h-1zM517 21h1v1h-1zM517 45h1v1h-1zM517 394h1v1h-1zM518 21h1v1h-1zM518 43h1v2h-1zM518 394h1v1h-1zM519 21h1v1h-1zM519 42h1v1h-1zM519 394h1v1h-1zM520 21h1v1h-1zM520 41h1v1h-1zM520 394h1v1h-1zM521 21h1v1h-1zM521 40h1v1h-1zM521 394h1v1h-1zM522 21h1v1h-1zM522 39h1v1h-1zM522 394h1v1h-1zM523 21h1v1h-1zM523 39h1v1h-1zM523 394h1v1h-1zM524 21h1v1h-1zM524 38h1v1h-1zM524 394h1v1h-1zM525 21h1v1h-1zM525 38h1v1h-1zM525 394h1v1h-1zM526 21h1v1h-1zM526 38h1v1h-1zM526 394h1v1h-1zM527 21h1v1h-1zM527 38h1v1h-1zM527 394h1v1h-1zM528 21h1v1h-1zM528 38h1v2h-1zM528 394h1v1h-1zM529 21h1v1h-1zM529 40h1v3h-1zM529 394h1v1h-1zM530 21h1v1h-1zM530 43h1v3h-1zM530 394h1v1h-1zM531 21h1v1h-1zM531 46h1v9h-1zM531 394h1v1h-1zM532 21h1v1h-1zM532 55h1v9h-1zM532 391h1v4h-1zM533 21h1v1h-1zM533 64h1v2h-1zM533 394h1v1h-1zM534 21h1v1h-1zM534 66h1v5h-1zM534 394h1v1h-1zM535 21h1v1h-1zM535 70h1v13h-1zM535 394h1v1h-1zM536 21h1v1h-1zM536 82h1v23h-1zM536 394h1v1h-1zM537 21h1v1h-1zM537 104h1v38h-1zM537 394h1v1h-1zM538 21h1v1h-1zM538 141h1v21h-1zM538 394h1v1h-1zM539 21h1v1h-1zM539 128h1v32h-1zM539 394h1v1h-1zM540 21h1v1h-1zM540 98h1v31h-1zM540 394h1v1h-1zM541 21h1v1h-1zM541 78h1v21h-1zM541 394h1v1h-1zM542 21h1v1h-1zM542 69h1v9h-1zM542 394h1v1h-1zM543 21h1v1h-1zM543 64h1v5h-1zM543 394h1v1h-1zM544 21h1v1h-1zM544 64h1v4h-1zM544 394h1v1h-1zM545 21h1v1h-1zM545 68h1v8h-1zM545 394h1v1h-1zM546 21h1v1h-1zM546 74h1v2h-1zM546 394h1v1h-1zM547 21h1v1h-1zM547 75h1v5h-1zM547 394h1v1h-1zM548 21h1v1h-1zM548 80h1v4h-1zM548 394h1v1h-1zM549 21h1v1h-1zM549 83h1v4h-1zM549 394h1v1h-1zM550 21h1v1h-1zM550 86h1v3h-1zM550 394h1v1h-1zM551 21h1v1h-1zM551 88h1v1h-1zM551 394h1v1h-1zM552 21h1v1h-1zM552 85h1v4h-1zM552 394h1v1h-1zM553 21h1v1h-1zM553 77h1v9h-1zM553 394h1v1h-1zM554 21h1v1h-1zM554 69h1v8h-1zM554 394h1v1h-1zM555 21h1v1h-1zM555 61h1v8h-1zM555 394h1v1h-1zM556 21h1v1h-1zM556 56h1v5h-1zM556 394h1v1h-1zM557 21h1v1h-1zM557 52h1v4h-1zM557 394h1v1h-1zM558 21h1v1h-1zM558 49h1v3h-1zM558 394h1v1h-1zM559 21h1v1h-1zM559 47h1v2h-1zM559 394h1v1h-1zM560 21h1v1h-1zM560 46h1v2h-1zM560 391h1v4h-1zM561 21h1v1h-1zM561 48h1v17h-1zM561 394h1v1h-1zM562 21h1v1h-1zM562 65h1v13h-1zM562 394h1v1h-1zM563 21h1v1h-1zM563 44h1v25h-1zM563 394h1v1h-1zM564 21h1v1h-1zM564 38h1v6h-1zM564 394h1v1h-1zM565 21h1v1h-1zM565 35h1v3h-1zM565 394h1v1h-1zM566 21h1v1h-1zM566 33h1v2h-1zM566 394h1v1h-1zM567 21h1v1h-1zM567 32h1v2h-1zM567 394h1v1h-1zM568 21h1v1h-1zM568 32h1v1h-1zM568 394h1v1h-1zM569 21h1v1h-1zM569 32h1v1h-1zM569 394h1v1h-1zM570 21h1v1h-1zM570 32h1v1h-1zM570 394h1v1h-1zM571 21h1v1h-1zM571 32h1v1h-1zM571 394h1v1h-1zM572 21h1v1h-1zM572 33h1v3h-1zM572 394h1v1h-1zM573 21h1v1h-1zM573 36h1v7h-1zM573 394h1v1h-1zM574 21h1v1h-1zM574 43h1v5h-1zM574 394h1v1h-1zM575 21h1v1h-1zM575 47h1v2h-1zM575 394h1v1h-1zM576 21h1v1h-1zM576 48h1v11h-1zM576 394h1v1h-1zM577 21h1v1h-1zM577 59h1v14h-1zM577 394h1v1h-1zM578 21h1v1h-1zM578 49h1v21h-1zM578 394h1v1h-1zM579 21h1v1h-1zM579 42h1v7h-1zM579 394h1v1h-1zM580 21h1v1h-1zM580 38h1v4h-1zM580 394h1v1h-1zM581 21h1v1h-1zM581 36h1v2h-1zM581 394h1v1h-1zM582 21h1v1h-1zM582 36h1v1h-1zM582 394h1v1h-1zM583 21h1v1h-1zM583 36h1v1h-1zM583 394h1v1h-1zM584 21h1v1h-1zM584 37h1v2h-1zM584 394h1v1h-1zM585 21h1v1h-1zM585 38h1v3h-1zM585 394h1v1h-1zM586 21h1v1h-1zM586 40h1v3h-1zM586 394h1v1h-1zM587 21h1v1h-1zM587 42h1v3h-1zM587 391h1v4h-1zM588 21h1v1h-1zM588 45h1v6h-1zM588 394h1v1h-1zM589 21h1v1h-1zM589 51h1v7h-1zM589 394h1v1h-1zM590 21h1v1h-1zM590 55h1v3h-1zM590 394h1v1h-1zM591 21h1v1h-1zM591 53h1v3h-1zM591 394h1v1h-1zM592 21h1v1h-1zM592 53h1v6h-1zM592 394h1v1h-1zM593 21h1v1h-1zM593 59h1v15h-1zM593 394h1v1h-1zM594 21h1v1h-1zM594 64h1v10h-1zM594 394h1v1h-1zM595 21h1v1h-1zM595 59h1v5h-1zM595 394h1v1h-1zM596 21h1v1h-1zM596 58h1v1h-1zM596 394h1v1h-1zM597 21h1v1h-1zM597 59h1v5h-1zM597 394h1v1h-1zM598 21h1v1h-1zM598 64h1v6h-1zM598 394h1v1h-1zM599 21h1v1h-1zM599 52h1v16h-1zM599 394h1v1h-1zM600 21h1v1h-1zM600 39h1v13h-1zM600 394h1v1h-1zM600 405h1v1h-1zM601 21h1v1h-1zM601 35h1v4h-1zM601 394h1v1h-1zM601 404h1v1h-1zM602 21h1v1h-1zM602 33h1v3h-1zM602 394h1v1h-1zM602 403h1v13h-1zM603 21h1v1h-1zM603 31h1v3h-1zM603 394h1v1h-1zM604 21h1v1h-1zM604 29h1v3h-1zM604 394h1v1h-1zM605 21h1v1h-1zM605 29h1v1h-1zM605 394h1v1h-1zM606 21h1v1h-1zM606 29h1v1h-1zM606 394h1v1h-1zM607 21h1v1h-1zM607 29h1v1h-1zM607 394h1v1h-1zM607 404h1v11h-1zM608 21h1v1h-1zM608 29h1v2h-1zM608 394h1v1h-1zM608 403h1v1h-1zM608 415h1v1h-1zM609 21h1v1h-1zM609 30h1v1h-1zM609 394h1v1h-1zM609 403h1v1h-1zM609 415h1v1h-1zM610 21h1v1h-1zM610 30h1v2h-1zM610 394h1v1h-1zM610 403h1v1h-1zM610 415h1v1h-1zM611 21h1v1h-1zM611 30h1v2h-1zM611 394h1v1h-1zM611 403h1v1h-1zM611 415h1v1h-1zM612 21h1v1h-1zM612 31h1v1h-1zM612 394h1v1h-1zM612 404h1v11h-1zM613 21h1v1h-1zM613 31h1v1h-1zM613 394h1v1h-1zM614 21h1v1h-1zM614 31h1v2h-1zM614 387h1v8h-1zM615 21h1v1h-1zM615 31h1v2h-1zM615 394h1v1h-1zM615 404h1v11h-1zM616 21h1v1h-1zM616 31h1v2h-1zM616 394h1v1h-1zM616 403h1v1h-1zM616 415h1v1h-1zM617 21h1v1h-1zM617 31h1v2h-1zM617 394h1v1h-1zM617 403h1v1h-1zM617 415h1v1h-1zM618 21h1v1h-1zM618 31h1v2h-1zM618 394h1v1h-1zM618 403h1v1h-1zM618 415h1v1h-1zM619 21h1v1h-1zM619 31h1v2h-1zM619 394h1v1h-1zM619 403h1v1h-1zM619 415h1v1h-1zM620 21h1v1h-1zM620 31h1v2h-1zM620 394h1v1h-1zM620 404h1v11h-1zM621 21h1v1h-1zM621 32h1v2h-1zM621 394h1v1h-1zM622 21h1v1h-1zM622 33h1v1h-1zM622 394h1v1h-1zM623 21h1v1h-1zM623 33h1v2h-1zM623 394h1v1h-1zM623 404h1v11h-1zM624 21h1v1h-1zM624 33h1v2h-1zM624 394h1v1h-1zM624 403h1v1h-1zM624 415h1v1h-1zM625 21h1v1h-1zM625 33h1v2h-1zM625 394h1v1h-1zM625 403h1v1h-1zM625 415h1v1h-1zM626 21h1v1h-1zM626 33h1v2h-1zM626 394h1v1h-1zM626 403h1v1h-1zM626 415h1v1h-1zM627 21h1v1h-1zM627 33h1v2h-1zM627 394h1v1h-1zM627 403h1v1h-1zM627 415h1v1h-1zM628 21h1v1h-1zM628 34h1v1h-1zM628 394h1v1h-1zM628 404h1v11h-1zM629 21h1v1h-1zM629 34h1v2h-1zM629 394h1v1h-1zM630 21h1v1h-1zM630 34h1v2h-1zM630 394h1v1h-1zM631 21h1v1h-1zM631 35h1v1h-1zM631 394h1v1h-1zM632 21h1v1h-1zM632 35h1v1h-1zM632 394h1v1h-1zM633 21h1v1h-1zM633 35h1v1h-1zM633 394h1v1h-1zM634 21h1v1h-1zM634 36h1v2h-1zM634 394h1v1h-1zM635 21h1v1h-1zM635 38h1v7h-1zM635 394h1v1h-1zM636 21h1v1h-1zM636 45h1v24h-1zM636 394h1v1h-1zM637 21h1v1h-1zM637 46h1v23h-1zM637 394h1v1h-1zM638 21h1v1h-1zM638 37h1v9h-1zM638 394h1v1h-1zM639 21h1v1h-1zM639 36h1v2h-1zM639 394h1v1h-1zM640 21h1v1h-1zM640 35h1v2h-1zM640 394h1v1h-1zM641 21h1v1h-1zM641 35h1v2h-1zM641 391h1v4h-1zM642 21h1v1h-1zM642 36h1v1h-1zM642 394h1v1h-1zM643 21h1v1h-1zM643 36h1v3h-1zM643 394h1v1h-1zM644 21h1v1h-1zM644 38h1v2h-1zM644 394h1v1h-1zM645 21h1v1h-1zM645 39h1v4h-1zM645 394h1v1h-1zM646 21h1v1h-1zM646 42h1v6h-1zM646 394h1v1h-1zM647 21h1v1h-1zM647 48h1v8h-1zM647 394h1v1h-1zM648 21h1v1h-1zM648 56h1v37h-1zM648 394h1v1h-1zM649 21h1v1h-1zM649 93h1v20h-1zM649 394h1v1h-1zM650 21h1v1h-1zM650 112h1v11h-1zM650 394h1v1h-1zM651 21h1v1h-1zM651 122h1v17h-1zM651 394h1v1h-1zM652 21h1v1h-1zM652 138h1v79h-1zM652 394h1v1h-1zM653 21h1v1h-1zM653 138h1v79h-1zM653 394h1v1h-1zM654 21h1v1h-1zM654 82h1v57h-1zM654 394h1v1h-1zM655 21h1v1h-1zM655 54h1v29h-1zM655 394h1v1h-1zM656 21h1v1h-1zM656 47h1v8h-1zM656 394h1v1h-1zM657 21h1v1h-1zM657 47h1v3h-1zM657 394h1v1h-1zM658 21h1v1h-1zM658 50h1v14h-1zM658 394h1v1h-1zM659 21h1v1h-1zM659 60h1v5h-1zM659 394h1v1h-1zM660 21h1v1h-1zM660 46h1v14h-1zM660 394h1v1h-1zM661 21h1v1h-1zM661 46h1v8h-1zM661 394h1v1h-1zM662 21h1v1h-1zM662 54h1v47h-1zM662 394h1v1h-1zM663 21h1v1h-1zM663 101h1v29h-1zM663 394h1v1h-1zM664 21h1v1h-1zM664 94h1v32h-1zM664 394h1v1h-1zM665 21h1v1h-1zM665 81h1v13h-1zM665 394h1v1h-1zM666 21h1v1h-1zM666 79h1v2h-1zM666 394h1v1h-1zM667 21h1v1h-1zM667 81h1v11h-1zM667 394h1v1h-1zM668 21h1v1h-1zM668 92h1v9h-1zM668 394h1v1h-1zM669 21h1v1h-1zM669 101h1v24h-1zM669 391h1v4h-1zM670 21h1v1h-1zM670 74h1v27h-1zM670 394h1v1h-1zM671 21h1v1h-1zM671 74h1v10h-1zM671 394h1v1h-1zM672 21h1v1h-1zM672 84h1v5h-1zM672 394h1v1h-1zM673 21h1v1h-1zM673 67h1v19h-1zM673 394h1v1h-1zM674 21h1v1h-1zM674 53h1v14h-1zM674 394h1v1h-1zM675 21h1v1h-1zM675 46h1v5h-1zM675 394h1v1h-1zM676 21h1v1h-1zM676 44h1v2h-1zM676 394h1v1h-1zM677 21h1v1h-1zM677 44h1v1h-1zM677 394h1v1h-1zM678 21h1v1h-1zM678 42h1v2h-1zM678 394h1v1h-1zM679 21h1v1h-1zM679 41h1v2h-1zM679 394h1v1h-1zM680 21h1v1h-1zM680 41h1v2h-1zM680 394h1v1h-1zM681 21h1v1h-1zM681 42h1v1h-1zM681 394h1v1h-1zM682 21h1v1h-1zM682 42h1v3h-1zM682 394h1v1h-1zM683 21h1v1h-1zM683 45h1v11h-1zM683 394h1v1h-1zM684 21h1v1h-1zM684 56h1v4h-1zM684 394h1v1h-1zM685 21h1v1h-1zM685 54h1v4h-1zM685 394h1v1h-1zM686 21h1v1h-1zM686 55h1v10h-1zM686 394h1v1h-1zM687 21h1v1h-1zM687 62h1v7h-1zM687 394h1v1h-1zM688 21h1v1h-1zM688 60h1v9h-1zM688 394h1v1h-1zM689 21h1v1h-1zM689 57h1v5h-1zM689 394h1v1h-1zM690 21h1v1h-1zM690 57h1v3h-1zM690 394h1v1h-1zM691 21h1v1h-1zM691 60h1v5h-1zM691 394h1v1h-1zM692 21h1v1h-1zM692 64h1v1h-1zM692 394h1v1h-1zM693 21h1v1h-1zM693 60h1v13h-1zM693 394h1v1h-1zM694 21h1v1h-1zM694 58h1v18h-1zM694 394h1v1h-1zM695 21h1v1h-1zM695 50h1v8h-1zM695 394h1v1h-1zM696 21h1v1h-1zM696 50h1v2h-1zM696 391h1v4h-1zM697 21h1v1h-1zM697 51h1v3h-1zM697 394h1v1h-1zM698 21h1v1h-1zM698 53h1v5h-1zM698 394h1v1h-1zM699 21h1v1h-1zM699 58h1v5h-1zM699 394h1v1h-1zM700 21h1v1h-1zM700 63h1v3h-1zM700 394h1v1h-1zM701 21h1v1h-1zM701 63h1v3h-1zM701 394h1v1h-1zM702 21h1v1h-1zM702 62h1v1h-1zM702 394h1v1h-1zM703 21h1v1h-1zM703 62h1v5h-1zM703 394h1v1h-1zM704 21h1v1h-1zM704 67h1v38h-1zM704 394h1v1h-1zM705 21h1v1h-1zM705 83h1v39h-1zM705 394h1v1h-1zM706 21h1v1h-1zM706 78h1v8h-1zM706 394h1v1h-1zM707 21h1v1h-1zM707 86h1v8h-1zM707 394h1v1h-1zM708 21h1v1h-1zM708 87h1v7h-1zM708 394h1v1h-1zM709 21h1v1h-1zM709 84h1v3h-1zM709 394h1v1h-1zM710 21h1v1h-1zM710 84h1v3h-1zM710 394h1v1h-1zM711 21h1v1h-1zM711 86h1v4h-1zM711 394h1v1h-1zM712 21h1v1h-1zM712 89h1v3h-1zM712 394h1v1h-1zM713 21h1v1h-1zM713 89h1v3h-1zM713 394h1v1h-1zM714 21h1v1h-1zM714 85h1v4h-1zM714 394h1v1h-1zM715 21h1v1h-1zM715 78h1v7h-1zM715 394h1v1h-1zM716 21h1v1h-1zM716 71h1v7h-1zM716 394h1v1h-1zM717 21h1v1h-1zM717 67h1v5h-1zM717 394h1v1h-1zM718 21h1v1h-1zM718 65h1v3h-1zM718 394h1v1h-1zM719 21h1v1h-1zM719 61h1v5h-1zM719 394h1v1h-1zM720 21h1v1h-1zM720 58h1v4h-1zM720 394h1v1h-1zM721 21h1v1h-1zM721 56h1v3h-1zM721 394h1v1h-1zM722 21h1v1h-1zM722 54h1v2h-1zM722 394h1v1h-1zM723 21h1v1h-1zM723 52h1v3h-1zM723 391h1v4h-1zM724 21h1v1h-1zM724 51h1v2h-1zM724 394h1v1h-1zM725 21h1v1h-1zM725 49h1v2h-1zM725 394h1v1h-1zM726 21h1v1h-1zM726 50h1v1h-1zM726 394h1v1h-1zM727 21h1v1h-1zM727 49h1v2h-1zM727 394h1v1h-1zM728 21h1v1h-1zM728 47h1v2h-1zM728 394h1v1h-1zM729 21h1v1h-1zM729 47h1v2h-1zM729 394h1v1h-1zM730 21h1v1h-1zM730 49h1v7h-1zM730 394h1v1h-1zM731 21h1v1h-1zM731 56h1v17h-1zM731 394h1v1h-1zM732 21h1v1h-1zM732 50h1v20h-1zM732 394h1v1h-1zM733 21h1v1h-1zM733 50h1v7h-1zM733 394h1v1h-1zM734 21h1v1h-1zM734 57h1v13h-1zM734 394h1v1h-1zM735 21h1v1h-1zM735 54h1v16h-1zM735 394h1v1h-1zM736 21h1v1h-1zM736 48h1v6h-1zM736 394h1v1h-1zM737 21h1v1h-1zM737 45h1v3h-1zM737 394h1v1h-1zM738 21h1v1h-1zM738 44h1v1h-1zM738 394h1v1h-1zM739 21h1v1h-1zM739 44h1v1h-1zM739 394h1v1h-1zM740 21h1v1h-1zM740 43h1v1h-1zM740 394h1v1h-1zM740 403h1v6h-1zM740 413h1v2h-1zM741 21h1v1h-1zM741 43h1v1h-1zM741 394h1v1h-1zM741 403h1v1h-1zM741 408h1v1h-1zM741 415h1v1h-1zM742 21h1v1h-1zM742 42h1v1h-1zM742 394h1v1h-1zM742 403h1v1h-1zM742 408h1v1h-1zM742 415h1v1h-1zM743 21h1v1h-1zM743 42h1v1h-1zM743 394h1v1h-1zM743 403h1v1h-1zM743 408h1v1h-1zM743 415h1v1h-1zM744 21h1v1h-1zM744 43h1v1h-1zM744 394h1v1h-1zM744 403h1v1h-1zM744 408h1v1h-1zM744 415h1v1h-1zM745 21h1v1h-1zM745 44h1v1h-1zM745 394h1v1h-1zM745 403h1v1h-1zM745 409h1v6h-1zM746 21h1v1h-1zM746 44h1v1h-1zM746 394h1v1h-1zM747 21h1v1h-1zM747 45h1v6h-1zM747 394h1v1h-1zM748 21h1v1h-1zM748 47h1v5h-1zM748 394h1v1h-1zM748 404h1v11h-1zM749 21h1v1h-1zM749 48h1v1h-1zM749 394h1v1h-1zM749 403h1v1h-1zM749 415h1v1h-1zM750 21h1v1h-1zM750 49h1v2h-1zM750 394h1v1h-1zM750 403h1v1h-1zM750 415h1v1h-1zM751 21h1v1h-1zM751 51h1v5h-1zM751 387h1v8h-1zM751 403h1v1h-1zM751 415h1v1h-1zM752 21h1v1h-1zM752 56h1v16h-1zM752 394h1v1h-1zM752 403h1v1h-1zM752 415h1v1h-1zM753 21h1v1h-1zM753 53h1v20h-1zM753 394h1v1h-1zM753 404h1v11h-1zM754 21h1v1h-1zM754 45h1v8h-1zM754 394h1v1h-1zM755 21h1v1h-1zM755 42h1v3h-1zM755 394h1v1h-1zM756 21h1v1h-1zM756 41h1v2h-1zM756 394h1v1h-1zM756 404h1v11h-1zM757 21h1v1h-1zM757 39h1v4h-1zM757 394h1v1h-1zM757 403h1v1h-1zM757 415h1v1h-1zM758 21h1v1h-1zM758 37h1v3h-1zM758 394h1v1h-1zM758 403h1v1h-1zM758 415h1v1h-1zM759 21h1v1h-1zM759 37h1v1h-1zM759 394h1v1h-1zM759 403h1v1h-1zM759 415h1v1h-1zM760 21h1v1h-1zM760 37h1v2h-1zM760 394h1v1h-1zM760 403h1v1h-1zM760 415h1v1h-1zM761 21h1v1h-1zM761 37h1v1h-1zM761 394h1v1h-1zM761 404h1v11h-1zM762 21h1v1h-1zM762 35h1v2h-1zM762 394h1v1h-1zM763 21h1v1h-1zM763 34h1v2h-1zM763 394h1v1h-1zM764 21h1v1h-1zM764 35h1v1h-1zM764 394h1v1h-1zM765 21h1v1h-1zM765 35h1v2h-1zM765 394h1v1h-1zM766 21h1v1h-1zM766 32h1v5h-1zM766 394h1v1h-1zM767 21h1v1h-1zM767 33h1v2h-1zM767 394h1v1h-1zM768 21h1v1h-1zM768 34h1v10h-1zM768 394h1v1h-1zM768 412h1v1h-1zM769 21h1v1h-1zM769 44h1v3h-1zM769 394h1v1h-1zM769 410h1v3h-1zM770 21h1v1h-1zM770 31h1v14h-1zM770 394h1v1h-1zM770 408h1v2h-1zM770 412h1v1h-1zM771 21h1v10h-1zM771 394h1v1h-1zM771 406h1v2h-1zM771 412h1v1h-1zM772 21h1v7h-1zM772 394h1v1h-1zM772 404h1v2h-1zM772 412h1v1h-1zM773 21h1v1h-1zM773 25h1v8h-1zM773 394h1v1h-1zM773 403h1v13h-1zM774 21h1v7h-1zM774 394h1v1h-1zM774 412h1v1h-1zM775 21h1v9h-1zM775 394h1v1h-1zM776 21h1v1h-1zM776 30h1v31h-1zM776 394h1v1h-1zM776 404h1v11h-1zM777 21h1v1h-1zM777 42h1v24h-1zM777 394h1v1h-1zM777 403h1v1h-1zM777 415h1v1h-1zM778 21h1v374h-1zM778 403h1v1h-1zM778 415h1v1h-1zM779 403h1v1h-1zM779 415h1v1h-1zM780 403h1v1h-1zM780 415h1v1h-1zM781 404h1v11h-1zM784 404h1v11h-1zM785 403h1v1h-1zM785 415h1v1h-1zM786 403h1v1h-1zM786 415h1v1h-1zM787 403h1v1h-1zM787 415h1v1h-1zM788 403h1v1h-1zM788 415h1v1h-1zM789 404h1v11h-1z"/>
</svg>
</body></html>
